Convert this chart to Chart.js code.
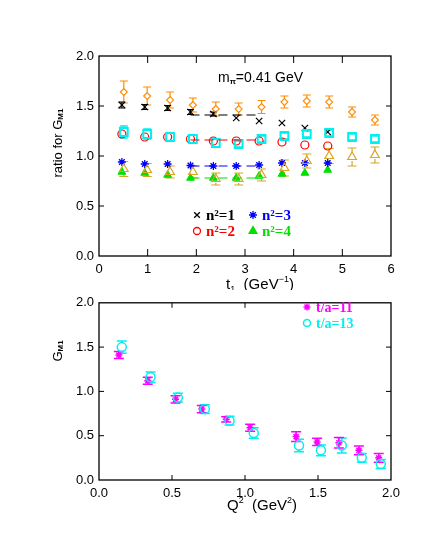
<!DOCTYPE html>
<html>
<head>
<meta charset="utf-8">
<script src="https://cdn.jsdelivr.net/npm/chart.js@4.4.0/dist/chart.umd.min.js"></script>
<style>
body { margin: 0; background: #fff; }
#wrap { position: relative; width: 436px; height: 545px; }
canvas { position: absolute; left: 0; }
</style>
</head>
<body>
<div id="wrap">
<canvas id="topChart" width="436" height="290" style="top:0"></canvas>
<canvas id="botChart" width="436" height="255" style="top:290px"></canvas>
</div>
<script>
// ---- top panel: ratio for G_M1 vs t1 ----
const tA = [0.47, 0.94, 1.41, 1.88, 2.35, 2.82, 3.29, 3.76, 4.23, 4.70];
const tB = [0.51, 0.99, 1.46, 1.93, 2.40, 2.87, 3.34, 3.81, 4.27, 4.73, 5.20, 5.67];

const ratioN1 = [1.51, 1.49, 1.48, 1.44, 1.42, 1.38, 1.35, 1.33, 1.28, 1.24];
const errN1 = [0.03, 0.025, 0.025, 0.025, 0.02, 0, 0, 0, 0, 0];
const ratioN2 = [1.22, 1.19, 1.19, 1.17, 1.15, 1.15, 1.15, 1.14, 1.11, 1.10];
const ratioN3 = [0.94, 0.92, 0.92, 0.905, 0.90, 0.90, 0.91, 0.93, 0.93, 0.93];
const ratioN4 = [0.84, 0.83, 0.81, 0.78, 0.78, 0.78, 0.80, 0.82, 0.83, 0.86];

const ratioSq = [1.24, 1.22, 1.19, 1.17, 1.13, 1.12, 1.17, 1.20, 1.22, 1.23, 1.19, 1.17];
const errSq = [0.06, 0.05, 0.04, 0.04, 0.04, 0.03, 0.03, 0.03, 0.03, 0.03, 0.03, 0.03];
const ratioDia = [1.64, 1.60, 1.56, 1.51, 1.47, 1.47, 1.49, 1.54, 1.55, 1.54, 1.44, 1.36];
const errDia = [0.11, 0.09, 0.08, 0.07, 0.07, 0.06, 0.065, 0.06, 0.06, 0.06, 0.05, 0.05];
const ratioTri = [0.87, 0.86, 0.84, 0.84, 0.77, 0.77, 0.81, 0.88, 0.95, 1.00, 0.99, 1.01];
const errTri = [0.075, 0.065, 0.06, 0.06, 0.06, 0.06, 0.06, 0.08, 0.07, 0.075, 0.09, 0.08];

// plateau fits (n2 = 1..4)
const fitT = [1.88, 3.29];
const fitLevels = [1.41, 1.16, 0.90, 0.78];

const tTicks = [0, 1, 2, 3, 4, 5, 6];
const ratioTicks = [0, 0.5, 1.0, 1.5, 2.0];

// ---- bottom panel: G_M1 vs Q^2 ----
const q11 = [0.136, 0.334, 0.524, 0.704, 0.871, 1.035, 1.35, 1.494, 1.643, 1.78, 1.916];
const gm11 = [1.41, 1.12, 0.91, 0.80, 0.685, 0.59, 0.49, 0.43, 0.42, 0.335, 0.25];
const err11 = [0.04, 0.04, 0.04, 0.04, 0.03, 0.04, 0.055, 0.04, 0.06, 0.05, 0.05];
const q13 = [0.156, 0.353, 0.54, 0.725, 0.894, 1.06, 1.37, 1.52, 1.663, 1.80, 1.93];
const gm13 = [1.50, 1.16, 0.93, 0.80, 0.67, 0.53, 0.39, 0.335, 0.39, 0.25, 0.18];
const err13 = [0.07, 0.06, 0.05, 0.05, 0.05, 0.06, 0.07, 0.06, 0.085, 0.05, 0.05];

const qTicks = [0, 0.5, 1.0, 1.5, 2.0];
const gmTicks = [0, 0.5, 1.0, 1.5, 2.0];

const SANS = '"Liberation Sans", Arial, sans-serif';
const SERIF = '"Liberation Serif", "Times New Roman", serif';

const pts = (xs, ys) => xs.map((x, i) => ({ x: x, y: ys[i] }));

function markSet(label, data, style, r, color, filled, lw, extra) {
    return Object.assign({
        label: label,
        data: data,
        showLine: false,
        pointStyle: style,
        pointRadius: r,
        pointBorderColor: color,
        pointBackgroundColor: filled ? color : 'rgba(0,0,0,0)',
        pointBorderWidth: lw,
        borderColor: color
    }, extra || {});
}

function fitLine(level, color) {
    return {
        type: 'line',
        data: fitT.map(t => ({ x: t, y: level })),
        borderColor: color,
        borderWidth: 1.2,
        borderDash: [9, 5],
        pointRadius: 0,
        fill: false
    };
}

// error bars drawn from each dataset's errors array
const errorBars = {
    id: 'errorBars',
    beforeDatasetsDraw(chart) {
        const ctx = chart.ctx;
        const y = chart.scales.y;
        chart.data.datasets.forEach((ds, i) => {
            if (!ds.errors) return;
            const meta = chart.getDatasetMeta(i);
            ctx.save();
            ctx.strokeStyle = ds.pointBorderColor;
            ctx.lineWidth = ds.errWidth || 1.2;
            const gap = ds.errGap || 0;
            const cap = ds.capW || 4;
            meta.data.forEach((el, j) => {
                const e = ds.errors[j];
                if (!e) return;
                const v = ds.data[j].y;
                const yt = y.getPixelForValue(v + e);
                const yb = y.getPixelForValue(v - e);
                ctx.beginPath();
                if (yt < el.y - gap) { ctx.moveTo(el.x, yt); ctx.lineTo(el.x, el.y - gap); }
                if (yb > el.y + gap) { ctx.moveTo(el.x, el.y + gap); ctx.lineTo(el.x, yb); }
                ctx.moveTo(el.x - cap, yt); ctx.lineTo(el.x + cap, yt);
                ctx.moveTo(el.x - cap, yb); ctx.lineTo(el.x + cap, yb);
                ctx.stroke();
            });
            ctx.restore();
        });
    }
};

// box round the plot with inward ticks on all four sides
function frameTicks(xLen, yLen) {
    return {
        id: 'frameTicks',
        afterDraw(chart) {
            const ctx = chart.ctx;
            const a = chart.chartArea;
            const sx = chart.scales.x, sy = chart.scales.y;
            ctx.save();
            ctx.strokeStyle = '#000';
            ctx.lineWidth = 1;
            ctx.beginPath();
            sx.ticks.forEach(t => {
                const px = sx.getPixelForValue(t.value);
                if (px <= a.left + 1 || px >= a.right - 1) return;
                ctx.moveTo(px, a.bottom); ctx.lineTo(px, a.bottom - xLen);
                ctx.moveTo(px, a.top); ctx.lineTo(px, a.top + xLen);
            });
            sy.ticks.forEach(t => {
                const py = sy.getPixelForValue(t.value);
                if (py <= a.top + 1 || py >= a.bottom - 1) return;
                ctx.moveTo(a.left, py); ctx.lineTo(a.left + yLen, py);
                ctx.moveTo(a.right, py); ctx.lineTo(a.right - yLen, py);
            });
            ctx.stroke();
            ctx.lineWidth = 1.3;
            ctx.strokeRect(a.left, a.top, a.right - a.left, a.bottom - a.top);
            ctx.restore();
        }
    };
}

function richText(ctx, parts, x, y, rot, align) {
    ctx.save();
    ctx.translate(x, y);
    ctx.rotate(rot || 0);
    ctx.textBaseline = 'middle';
    ctx.textAlign = 'left';
    let w = 0;
    parts.forEach(p => { ctx.font = p.font; w += ctx.measureText(p.text).width; });
    let cx = align === 'left' ? 0 : -w / 2;
    parts.forEach(p => {
        ctx.font = p.font;
        ctx.fillStyle = p.color || '#000';
        ctx.fillText(p.text, cx, p.dy || 0);
        cx += ctx.measureText(p.text).width;
    });
    ctx.restore();
}

function drawMark(ctx, style, r, x, y, color, filled, lw) {
    ctx.save();
    ctx.strokeStyle = color;
    ctx.fillStyle = filled ? color : 'rgba(0,0,0,0)';
    ctx.lineWidth = lw;
    Chart.helpers.drawPoint(ctx, { pointStyle: style, radius: r, rotation: 0, borderWidth: lw }, x, y);
    ctx.restore();
}

function fixedTicks(list) {
    return s => { s.ticks = list.map(v => ({ value: v })); };
}

function axes(xMin, xMax, xList, xFmt, yList, xHeight) {
    return {
        x: {
            type: 'linear', min: xMin, max: xMax,
            afterBuildTicks: fixedTicks(xList),
            afterFit: s => { s.height = xHeight; },
            grid: { display: false, drawTicks: false },
            border: { display: false },
            ticks: { padding: 6, color: '#000', font: { family: SANS, size: 13 }, maxRotation: 0, callback: xFmt }
        },
        y: {
            type: 'linear', min: 0, max: 2,
            afterBuildTicks: fixedTicks(yList),
            afterFit: s => { s.width = 99; },
            grid: { display: false, drawTicks: false },
            border: { display: false },
            ticks: { padding: 5, color: '#000', font: { family: SANS, size: 13 }, callback: v => v.toFixed(1) }
        }
    };
}

const baseOpts = {
    responsive: false,
    animation: false,
    devicePixelRatio: 1,
    events: [],
    plugins: { legend: { display: false }, tooltip: { enabled: false } }
};

const topText = {
    id: 'topText',
    afterDraw(chart) {
        const ctx = chart.ctx;
        const s13 = '13px ' + SANS, s14 = '15px ' + SANS;
        richText(ctx, [
            { text: 'ratio for G', font: s13 },
            { text: 'M1', font: 'bold 8px ' + SANS, dy: 3 }
        ], 58, 143, -Math.PI / 2);
        richText(ctx, [
            { text: 't', font: s14 },
            { text: '1', font: '9px ' + SANS, dy: 5 },
            { text: '  (GeV', font: s14 },
            { text: '\u22121', font: '9px ' + SANS, dy: -5 },
            { text: ')', font: s14 }
        ], 260, 285, 0);
        richText(ctx, [
            { text: 'm', font: '14px ' + SANS },
            { text: '\u03c0', font: 'bold 8px ' + SANS, dy: 4 },
            { text: '=0.41 GeV', font: '14px ' + SANS }
        ], 218, 78, 0, 'left');

        const leg = [
            ['crossRot', 4, '#000', false, 197, 215, 'n\u00b2=1'],
            ['star', 4, '#0000ff', false, 253, 215, 'n\u00b2=3'],
            ['circle', 3.5, '#ff0000', false, 197, 231, 'n\u00b2=2'],
            ['triangle', 4.5, '#00e000', true, 253, 231, 'n\u00b2=4']
        ];
        leg.forEach(l => {
            drawMark(ctx, l[0], l[1], l[4], l[5], l[2], l[3], 1.3);
            richText(ctx, [{ text: l[6], font: 'bold 15px ' + SERIF, color: l[2] }], l[4] + 9, l[5] + 1, 0, 'left');
        });
    }
};

new Chart(document.getElementById('topChart'), {
    type: 'scatter',
    data: {
        datasets: [
            fitLine(fitLevels[0], '#000'),
            fitLine(fitLevels[1], '#ff0000'),
            fitLine(fitLevels[2], '#0000ff'),
            fitLine(fitLevels[3], '#00e000'),
            markSet('tri', pts(tB, ratioTri), 'triangle', 5, '#daa520', false, 1.2,
                { errors: errTri, capW: 4.5, errGap: 4 }),
            markSet('dia', pts(tB, ratioDia), 'rectRot', 3.5, '#ff8c00', false, 1.1,
                { errors: errDia, capW: 4, errGap: 3 }),
            markSet('sq', pts(tB, ratioSq), 'rect', 5.5, '#00f0f0', false, 2,
                { errors: errSq, capW: 4, errGap: 4, errWidth: 1.5 }),
            markSet('n2=1', pts(tA, ratioN1), 'crossRot', 4.5, '#000', false, 1.2,
                { errors: errN1, capW: 3.5 }),
            markSet('n2=2', pts(tA, ratioN2), 'circle', 4, '#ff0000', false, 1.2),
            markSet('n2=3', pts(tA, ratioN3), 'star', 4, '#0000ff', false, 1.3),
            markSet('n2=4', pts(tA, ratioN4), 'triangle', 4.5, '#00e000', true, 1)
        ]
    },
    options: Object.assign({}, baseOpts, {
        layout: { padding: { top: 56, right: 45, left: 0, bottom: 0 } },
        scales: axes(0, 6, tTicks, v => String(v), ratioTicks, 34)
    }),
    plugins: [errorBars, frameTicks(7, 5), topText]
});

const botText = {
    id: 'botText',
    afterDraw(chart) {
        const ctx = chart.ctx;
        richText(ctx, [
            { text: 'G', font: '13px ' + SANS },
            { text: 'M1', font: 'bold 8px ' + SANS, dy: 3 }
        ], 58, 61, -Math.PI / 2);
        richText(ctx, [
            { text: 'Q', font: '15px ' + SANS },
            { text: '2', font: '9px ' + SANS, dy: -5 },
            { text: '  (GeV', font: '15px ' + SANS },
            { text: '2', font: '9px ' + SANS, dy: -5 },
            { text: ')', font: '15px ' + SANS }
        ], 262, 216, 0);
        drawMark(ctx, 'star', 3.5, 307, 17, '#ff00ff', false, 1.5);
        richText(ctx, [{ text: 't/a=11', font: 'bold 14px ' + SERIF, color: '#ff00ff' }], 316, 18, 0, 'left');
        drawMark(ctx, 'circle', 3.5, 307, 33, '#00f0f0', false, 1.5);
        richText(ctx, [{ text: 't/a=13', font: 'bold 14px ' + SERIF, color: '#00f0f0' }], 316, 34, 0, 'left');
    }
};

new Chart(document.getElementById('botChart'), {
    type: 'scatter',
    data: {
        datasets: [
            markSet('t/a=13', pts(q13, gm13), 'circle', 4.5, '#00f0f0', false, 1.5,
                { errors: err13, capW: 5, errGap: 4.5, errWidth: 1.5 }),
            markSet('t/a=11', pts(q11, gm11), 'star', 3.5, '#ff00ff', false, 1.5,
                { errors: err11, capW: 5, errWidth: 1.5 })
        ]
    },
    options: Object.assign({}, baseOpts, {
        layout: { padding: { top: 7, right: 45, left: 0, bottom: 0 } },
        scales: axes(0, 2, qTicks, v => v.toFixed(1), gmTicks, 65)
    }),
    plugins: [errorBars, frameTicks(5, 5), botText]
});
</script>
</body>
</html>
